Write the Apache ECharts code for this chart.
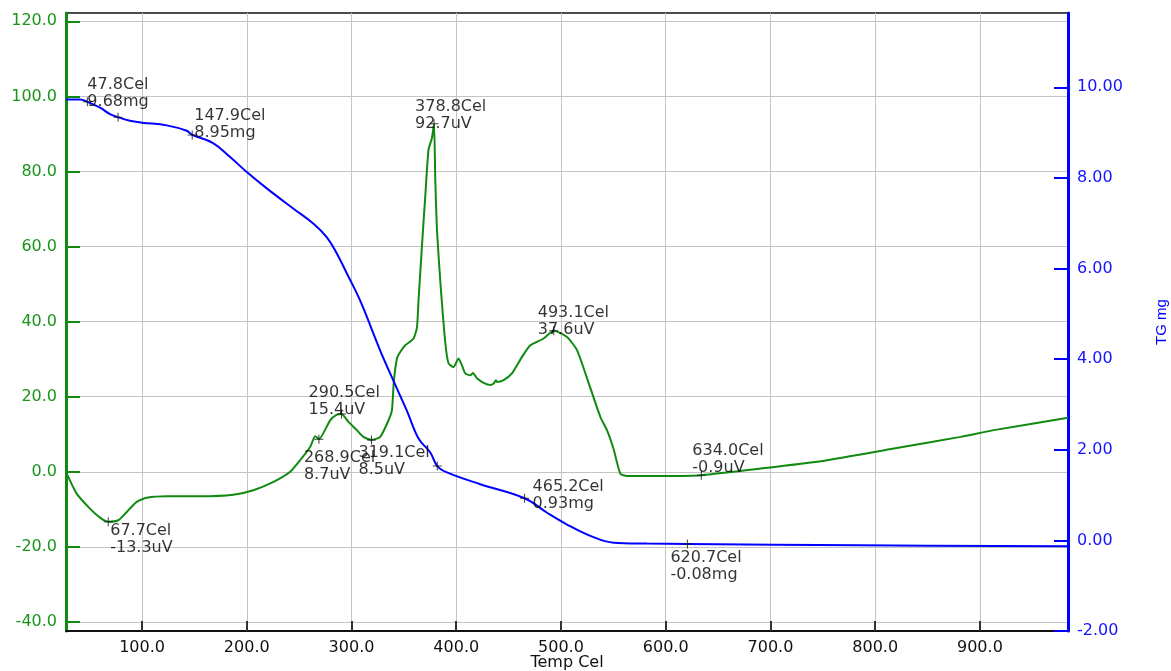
<!DOCTYPE html>
<html>
<head>
<meta charset="utf-8">
<script src="https://cdn.jsdelivr.net/npm/echarts@6/dist/echarts.min.js"></script>
<style>
html,body{margin:0;padding:0;background:#fff;}
#chart{width:1171px;height:671px;}
</style>
</head>
<body>
<div id="chart"></div>
<script>
// ---- data ----
const dtaTemp = [27.4,37.6,50.3,59.9,67.7,77.4,85.4,94.9,104.5,123.6,155.4,187.2,206.3,225.5,241.4,251.0,260.5,265.3,268.9,279.6,286.0,290.5,297.1,305.1,311.3,319.1,327.4,335.3,338.6,340.5,343.4,346.5,351.3,359.2,362.5,364.0,367.2,370.4,373.5,376.8,378.8,380.0,381.6,384.7,389.5,392.6,397.4,402.2,405.4,408.6,413.4,415.9,419.8,426.1,432.5,435.7,437.9,438.9,445.2,453.2,462.8,470.7,483.4,493.1,505.8,515.3,524.9,537.6,543.9,550.3,556.7,563.1,600.0,634.0,690.4,754.2,817.8,881.5,913.3,984.0];
const dtaValue = [0.0,-5.8,-9.8,-12.2,-13.3,-12.9,-10.7,-8.0,-6.9,-6.5,-6.5,-6.1,-4.9,-2.7,0.0,3.1,6.6,9.5,8.7,13.7,15.2,15.4,13.3,11.1,9.3,8.5,9.3,13.7,16.4,24.4,30.2,31.9,33.7,35.5,38.5,45.7,59.9,73.3,85.7,88.9,92.7,77.7,64.4,51.1,34.5,28.9,27.9,30.2,28.4,26.2,25.7,26.3,24.9,23.7,23.1,23.5,24.4,23.9,24.4,26.2,30.6,33.7,35.5,37.6,35.9,32.4,24.9,14.6,11.1,6.0,-0.5,-1.1,-1.1,-0.9,0.85,3.1,6.2,9.3,11.1,14.4];

const tgTemp = [27.4,40.8,47.8,59.9,69.4,77.1,88.5,100.0,123.6,142.7,147.9,167.8,184.1,200.0,219.1,244.6,263.7,276.5,286.0,295.6,308.3,327.4,340.1,352.9,364.0,375.2,381.9,391.1,422.9,465.2,486.7,505.8,528.0,550.3,582.2,620.7,786.0,984.0];
const tgValue = [9.73,9.73,9.68,9.55,9.41,9.34,9.26,9.22,9.16,9.04,8.95,8.77,8.46,8.13,7.77,7.32,6.99,6.69,6.33,5.89,5.29,4.19,3.52,2.86,2.25,1.94,1.64,1.50,1.24,0.93,0.61,0.35,0.10,-0.05,-0.07,-0.08,-0.11,-0.13];

const dtaMarkTemp  = [67.7,268.9,290.5,319.1,378.8,493.1,634.0];
const dtaMarkValue = [-13.3,8.7,15.4,8.5,92.7,37.6,-0.9];
const dtaMarkText  = ['67.7Cel\n-13.3uV','268.9Cel\n8.7uV','290.5Cel\n15.4uV','319.1Cel\n8.5uV','378.8Cel\n92.7uV','493.1Cel\n37.6uV','634.0Cel\n-0.9uV'];

const tgMarkTemp  = [47.8,77.1,147.9,381.9,465.2,620.7];
const tgMarkValue = [9.68,9.34,8.95,1.64,0.93,-0.08];
const tgMarkText  = ['47.8Cel\n9.68mg','','147.9Cel\n8.95mg','','465.2Cel\n0.93mg','620.7Cel\n-0.08mg'];

const xTicks = [100,200,300,400,500,600,700,800,900];
const leftTicks = [-40,-20,0,20,40,60,80,100,120];
const rightTicks = [-2,0,2,4,6,8,10];

// ---- label placement (style only) ----
const dtaLabelOffset = [[2,1],[-15,10],[-33,-30],[-13,4],[-19,-25],[-16,-26],[-9,-33]];
const tgLabelOffset  = [[0,-25],[0,0],[2,-28],[0,0],[8,-20],[-17,5]];

const GREEN = '#108a10';
const GREEN_TXT = '#1b941b';
const BLUE = '#0000ff';
const FONT = 'DejaVu Sans';

const plus = 'path://M0,4h9v1h-9z M4,0h1v9h-1z';

function markData(ts, vs, texts, offs) {
  return ts.map((t, i) => ({
    value: [t, vs[i]],
    label: {
      show: texts[i] !== '',
      formatter: texts[i],
      position: 'inside',
      align: 'left',
      verticalAlign: 'top',
      offset: offs[i]
    }
  }));
}

const chart = echarts.init(document.getElementById('chart'), null, {renderer: 'canvas'});
chart.setOption({
  animation: false,
  backgroundColor: '#ffffff',
  grid: {
    left: 66, right: 103, top: 13, bottom: 40,
    show: true, borderColor: '#111', borderWidth: 1.5,
    containLabel: false, outerBoundsMode: 'none'
  },
  xAxis: {
    type: 'value', min: 27.4, max: 984.1,
    name: 'Temp Cel', nameLocation: 'middle', nameGap: 24, nameMoveOverlap: false,
    nameTextStyle: {color: '#111', fontSize: 16, fontFamily: FONT},
    axisLine: {show: true, onZero: false, lineStyle: {color: '#111', width: 2}},
    axisTick: {show: true, inside: true, length: 10, lineStyle: {color: '#333', width: 2}, customValues: xTicks},
    axisLabel: {color: '#111', fontSize: 16, fontFamily: FONT, margin: 9, customValues: xTicks,
      formatter: v => v.toFixed(1)},
    splitLine: {show: true, lineStyle: {color: '#c4c4c4', width: 1}}
  },
  yAxis: [{
    type: 'value', position: 'left', min: -42.4, max: 122.2,
    axisLine: {show: true, onZero: false, lineStyle: {color: GREEN, width: 3}},
    axisTick: {show: true, inside: true, length: 14, lineStyle: {color: GREEN, width: 2}, customValues: leftTicks},
    axisLabel: {color: GREEN_TXT, fontSize: 16, fontFamily: FONT, margin: 9, customValues: leftTicks,
      formatter: v => v.toFixed(1)},
    splitLine: {show: true, lineStyle: {color: '#c4c4c4', width: 1}}
  }, {
    type: 'value', position: 'right', min: -2, max: 11.64,
    name: 'TG mg', nameLocation: 'middle', nameGap: 86, nameMoveOverlap: false,
    nameTextStyle: {color: BLUE, fontSize: 15, fontFamily: 'Liberation Sans'},
    axisLine: {show: true, onZero: false, lineStyle: {color: BLUE, width: 3}},
    axisTick: {show: true, inside: true, length: 14, lineStyle: {color: BLUE, width: 2}, customValues: rightTicks},
    axisLabel: {color: '#1414ff', fontSize: 16, fontFamily: FONT, margin: 9, customValues: rightTicks,
      formatter: v => v.toFixed(2)},
    splitLine: {show: false}
  }],
  series: [{
    name: 'DTA', type: 'line', xAxisIndex: 0, yAxisIndex: 0, z: 3,
    data: dtaTemp.map((t, i) => [t, dtaValue[i]]),
    showSymbol: false, smooth: 0.2,
    lineStyle: {color: GREEN, width: 2}
  }, {
    name: 'TG', type: 'line', xAxisIndex: 0, yAxisIndex: 1, z: 3,
    data: tgTemp.map((t, i) => [t, tgValue[i]]),
    showSymbol: false, smooth: 0.4,
    lineStyle: {color: BLUE, width: 2}
  }, {
    type: 'scatter', xAxisIndex: 0, yAxisIndex: 0, z: 5,
    symbol: plus, symbolSize: 9,
    itemStyle: {color: '#111'},
    label: {color: '#000', fontSize: 16, fontFamily: FONT, lineHeight: 17},
    data: markData(dtaMarkTemp, dtaMarkValue, dtaMarkText, dtaLabelOffset)
  }, {
    type: 'scatter', xAxisIndex: 0, yAxisIndex: 1, z: 5,
    symbol: plus, symbolSize: 9,
    itemStyle: {color: '#111'},
    label: {color: '#000', fontSize: 16, fontFamily: FONT, lineHeight: 17},
    data: markData(tgMarkTemp, tgMarkValue, tgMarkText, tgLabelOffset)
  }]
});
</script>
</body>
</html>
